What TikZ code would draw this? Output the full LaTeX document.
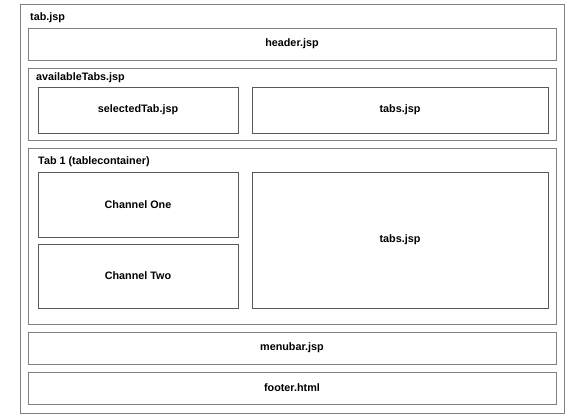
\documentclass[tikz,border=0pt]{standalone}
\usepackage{fontspec}
\setmainfont{Liberation Sans}
\usetikzlibrary{positioning}

\begin{document}
\begin{tikzpicture}[
    x=1pt, y=-1pt,
    every node/.style={font=\fontsize{10.8}{12}\selectfont\bfseries},
    box/.style={draw=black!50, line width=0.9pt, rectangle, inner sep=0pt},
    inbox/.style={box, draw=black!65},
    lbl/.style={inner sep=0pt, anchor=west}
]
\useasboundingbox (0,0) rectangle (584,415);

% outer page
\node[box, minimum width=544pt, minimum height=409pt] (tab) at (292,208.5) {};
\node[lbl] (tablbl) at (30,17.5) {tab.jsp};

\node[box, minimum width=528pt, minimum height=32pt] (header) at (292,44) {header.jsp};

% available tabs
\node[box, minimum width=528pt, minimum height=72pt] (avail) at (292,104) {};
\node[lbl] (availlbl) at (36,77.5) {availableTabs.jsp};
\node[inbox, minimum width=200pt, minimum height=46pt] (selected) at (138,110) {selectedTab.jsp};
\node[inbox, minimum width=296pt, minimum height=46pt] (tabsA) at (400,110) {tabs.jsp};

% tab container
\node[box, minimum width=528pt, minimum height=176pt] (tabcont) at (292,236) {};
\node[lbl] (tabcontlbl) at (38,161.5) {Tab 1 (tablecontainer)};
\node[inbox, minimum width=200pt, minimum height=65pt] (chone) at (138,204.5) {Channel One};
\node[inbox, minimum width=200pt, minimum height=64pt] (chtwo) at (138,276) {Channel Two};
\node[inbox, minimum width=296pt, minimum height=136pt] (tabsB) at (400,240) {tabs.jsp};

\node[box, minimum width=528pt, minimum height=32pt] (menubar) at (292,348) {menubar.jsp};
\node[box, minimum width=528pt, minimum height=32pt] (footer) at (292,388) {footer.html};

\end{tikzpicture}
\end{document}
